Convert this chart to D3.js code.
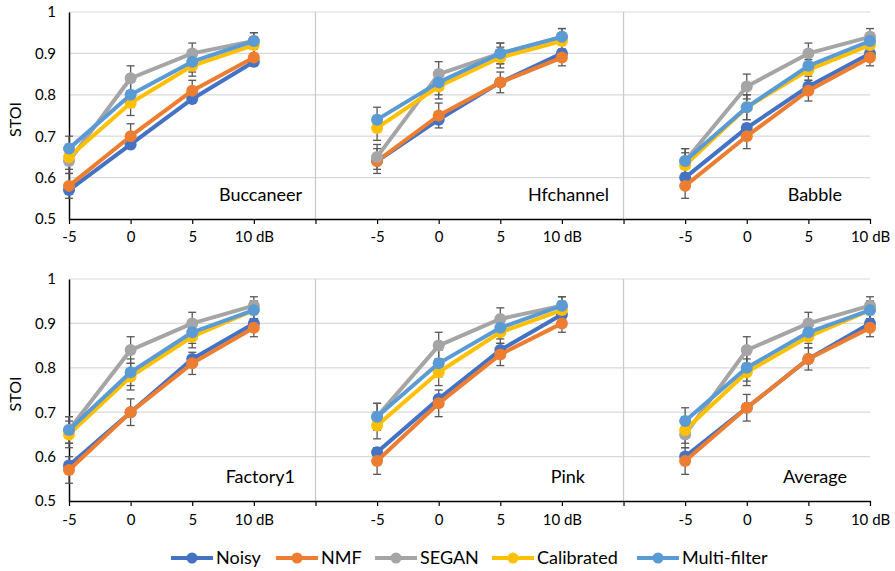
<!DOCTYPE html>
<html>
<head>
<meta charset="utf-8">
<script src="https://cdn.jsdelivr.net/npm/d3@7"></script>
<style>
  body { margin: 0; background: #fff; }
  svg { font-family: Lato, "Open Sans", sans-serif; }
</style>
</head>
<body>
<svg id="chart" width="895" height="571"></svg>
<script>
// conditions, left to right, top row then bottom row
const conditions = ["Buccaneer", "Hfchannel", "Babble", "Factory1", "Pink", "Average"];
const snrLabels = ["-5", "0", "5", "10 dB"];
const yTicks = [0.5, 0.6, 0.7, 0.8, 0.9, 1];
const seriesNames = ["Noisy", "NMF", "SEGAN", "Calibrated", "Multi-filter"];
const seriesColors = ["#4472C4", "#ED7D31", "#A5A5A5", "#FFC000", "#5B9BD5"];

// STOI values, one list of 4 SNRs per condition
const noisy = [
    [0.57, 0.68, 0.79, 0.88],
    [0.64, 0.74, 0.83, 0.90],
    [0.60, 0.72, 0.82, 0.90],
    [0.58, 0.70, 0.82, 0.90],
    [0.61, 0.73, 0.84, 0.92],
    [0.60, 0.71, 0.82, 0.90]
];
const nmf = [
    [0.58, 0.70, 0.81, 0.89],
    [0.64, 0.75, 0.83, 0.89],
    [0.58, 0.70, 0.81, 0.89],
    [0.57, 0.70, 0.81, 0.89],
    [0.59, 0.72, 0.83, 0.90],
    [0.59, 0.71, 0.82, 0.89]
];
const segan = [
    [0.64, 0.84, 0.90, 0.93],
    [0.65, 0.85, 0.90, 0.94],
    [0.64, 0.82, 0.90, 0.94],
    [0.66, 0.84, 0.90, 0.94],
    [0.69, 0.85, 0.91, 0.94],
    [0.65, 0.84, 0.90, 0.94]
];
const calibrated = [
    [0.65, 0.78, 0.87, 0.92],
    [0.72, 0.82, 0.89, 0.93],
    [0.63, 0.77, 0.86, 0.92],
    [0.65, 0.78, 0.87, 0.93],
    [0.67, 0.79, 0.88, 0.93],
    [0.66, 0.79, 0.87, 0.93]
];
const multiFilter = [
    [0.67, 0.80, 0.88, 0.93],
    [0.74, 0.83, 0.90, 0.94],
    [0.64, 0.77, 0.87, 0.93],
    [0.66, 0.79, 0.88, 0.93],
    [0.69, 0.81, 0.89, 0.94],
    [0.68, 0.80, 0.88, 0.93]
];
// error bar half-width per SNR (no error bars on the noisy input)
const errors = [0.03, 0.03, 0.025, 0.02];
const hasErrors = [false, true, true, true, true];

const allSeries = [noisy, nmf, segan, calibrated, multiFilter];

const svg = d3.select("#chart");

// two rows, each one chart of 3 groups of 4 categories with a gap between groups
const rows = [
    { top: 12, bottom: 219, labelY: 242, nameY: 201 },
    { top: 279, bottom: 501, labelY: 525, nameY: 483 }
];
const nameEndX = [[302, 609, 842], [295, 585, 847]];

const x = d3.scaleLinear().domain([0, 13]).range([69, 870]);
const slotOf = (group, k) => group * 5 + k;

rows.forEach(function (row, r) {
    const y = d3.scaleLinear().domain([0.5, 1]).range([row.bottom, row.top]);
    const g = svg.append("g");

    // horizontal gridlines
    g.selectAll(".grid")
        .data(yTicks.slice(1))
        .enter().append("line")
        .attr("x1", x(0)).attr("x2", x(13))
        .attr("y1", d => y(d)).attr("y2", d => y(d))
        .attr("stroke", "#d9d9d9").attr("stroke-width", 1.2);

    // separators between groups
    g.selectAll(".sep")
        .data([4, 9])
        .enter().append("line")
        .attr("x1", d => x(d)).attr("x2", d => x(d))
        .attr("y1", y(1)).attr("y2", y(0.5))
        .attr("stroke", "#c8c8c8").attr("stroke-width", 1.2);

    // y axis
    const yAxis = d3.axisLeft(y).tickValues(yTicks).tickSize(0).tickPadding(13)
        .tickFormat(d => d === 1 ? "1" : d3.format(".1f")(d));
    const ya = g.append("g").attr("transform", "translate(" + x(0) + ",0)").call(yAxis);
    ya.select(".domain").attr("stroke", "#000").attr("stroke-width", 1.5);
    ya.selectAll("text").style("font-size", "15px").style("font-family", "Lato").attr("fill", "#000");

    // x axis
    const idx = d3.range(14);
    const xAxis = d3.axisBottom(x).tickValues(idx).tickSize(5).tickSizeOuter(0)
        .tickFormat(d => (d % 5 < 4) ? snrLabels[d % 5] : "");
    const xa = g.append("g").attr("transform", "translate(0," + row.bottom + ")").call(xAxis);
    xa.select(".domain").attr("stroke", "#000").attr("stroke-width", 1.5);
    xa.selectAll(".tick line").attr("stroke", "#000").attr("stroke-width", 1.2);
    xa.selectAll("text").style("font-size", "15px").style("font-family", "Lato")
        .attr("fill", "#000").attr("y", null).attr("dy", null)
        .attr("transform", "translate(0," + (row.labelY - row.bottom) + ")");

    // STOI label
    g.append("text")
        .attr("transform", "translate(21," + ((row.top + row.bottom) / 2 + 4) + ") rotate(-90)")
        .attr("text-anchor", "middle")
        .style("font-size", "16px")
        .text("STOI");

    for (let grp = 0; grp < 3; grp++) {
        const c = r * 3 + grp;
        const pointsOf = series => series[c].map((v, k) => ({ x: x(slotOf(grp, k)), v: v, e: errors[k] }));

        // error bars sit under all the lines
        const eg = g.append("g").attr("stroke", "#595959").attr("stroke-width", 1.3);
        allSeries.forEach(function (series, s) {
            if (!hasErrors[s]) return;
            pointsOf(series).forEach(function (p) {
                eg.append("line").attr("x1", p.x).attr("x2", p.x)
                    .attr("y1", y(p.v - p.e)).attr("y2", y(p.v + p.e));
                [p.v - p.e, p.v + p.e].forEach(function (cv) {
                    eg.append("line").attr("x1", p.x - 4).attr("x2", p.x + 4)
                        .attr("y1", y(cv)).attr("y2", y(cv));
                });
            });
        });

        allSeries.forEach(function (series, s) {
            const pts = pointsOf(series);
            const sg = g.append("g");
            sg.append("path")
                .datum(pts)
                .attr("fill", "none")
                .attr("stroke", seriesColors[s])
                .attr("stroke-width", 4)
                .attr("stroke-linejoin", "round")
                .attr("d", d3.line().x(d => d.x).y(d => y(d.v)));
            sg.selectAll("circle")
                .data(pts)
                .enter().append("circle")
                .attr("cx", d => d.x).attr("cy", d => y(d.v))
                .attr("r", 6)
                .attr("fill", seriesColors[s]);
        });

        g.append("text")
            .attr("x", nameEndX[r][grp]).attr("y", row.nameY)
            .attr("text-anchor", "end")
            .style("font-size", "18px")
            .text(conditions[c]);
    }
});

// legend
const legendX = [192, 297, 396, 513, 658];
const legend = svg.append("g");
seriesNames.forEach(function (name, i) {
    const lg = legend.append("g").attr("transform", "translate(" + legendX[i] + ",558)");
    lg.append("line").attr("x1", -21).attr("x2", 21).attr("y1", 0).attr("y2", 0)
        .attr("stroke", seriesColors[i]).attr("stroke-width", 4);
    lg.append("circle").attr("r", 5.5).attr("fill", seriesColors[i]);
    lg.append("text").attr("x", 24).attr("y", 6)
        .style("font-size", "18px")
        .text(name);
});
</script>
</body>
</html>
